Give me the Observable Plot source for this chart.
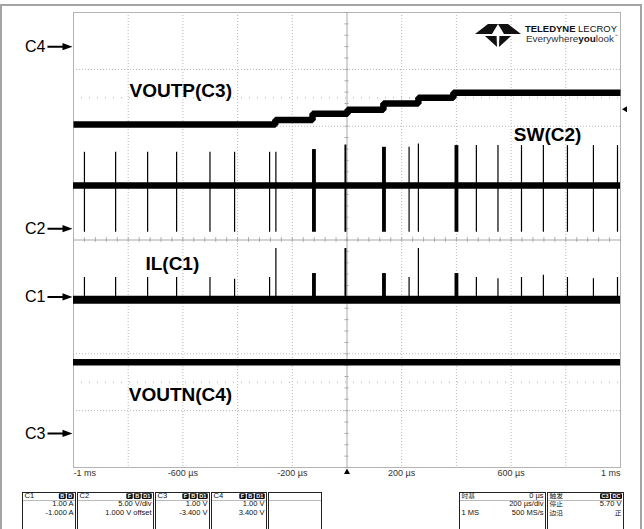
<!DOCTYPE html>
<html><head><meta charset="utf-8">
<script src="https://cdn.jsdelivr.net/npm/d3@7"></script>
<script src="https://cdn.jsdelivr.net/npm/@observablehq/plot@0.6"></script>
<style>
html,body{margin:0;padding:0;background:#fff;}
#wrap{position:relative;width:644px;height:529px;overflow:hidden;font-family:"Liberation Sans",Arial,sans-serif;}
#frame{position:absolute;left:0;top:4px;width:638px;height:560px;border:2px solid #a4a4a4;}
#chart{position:absolute;left:0;top:0;}
#over{position:absolute;left:0;top:0;pointer-events:none;}
</style>
</head><body>
<div id="wrap">
  <div id="frame"></div>
  <div id="chart"></div>
  <svg id="over" width="644" height="529" font-family="Liberation Sans, Arial, sans-serif">
    <g fill="#111">
      <polygon points="475,34 488,24 498,24 492,34"/>
      <polygon points="521,34 508,24 498,24 504,34"/>
      <polygon points="485,36 496.6,36 497,47"/>
      <polygon points="511,36 499.4,36 499,47"/>
    </g>
    <text x="525" y="31.6" font-size="9.6" textLength="92" lengthAdjust="spacingAndGlyphs" fill="#111"><tspan font-weight="bold">TELEDYNE</tspan> LECROY</text>
    <text x="526" y="41.6" font-size="9" textLength="88" lengthAdjust="spacingAndGlyphs" fill="#333">Everywhere<tspan font-weight="bold" fill="#111">you</tspan>look</text>
    <text x="614.5" y="36.5" font-size="3.5" fill="#333">™</text>
    <g id="boxes"></g>
  </svg>
</div>
<script>
// ---- axis / channel settings ----
const timeTicks = [-1000, -600, -200, 200, 600, 1000];           // µs
const timeTickLabels = ["-1 ms", "-600 µs", "-200 µs", "200 µs", "600 µs", "1 ms"];
const chNames = ["C1", "C2", "C3", "C4"];
const chScale = [1, 5, 1, 1];          // units per division
const chOffset = [-1, 1, -3.4, 3.4];   // offset
const triggerLevel = 5.70;             // V on C3
const triggerTime = 0;

// ---- traces ----
// VOUTP (C3): staircase
const voutpStepTimes = [-1000, -262, -126, 2, 133, 261, 389];
const voutpLevels = [5.43, 5.51, 5.62, 5.69, 5.80, 5.90, 5.99];
// switching events (µs)
const pulseTimes  = [-960, -846, -729, -623, -501, -411, -283, -260, -119, -4, 137, 227, 261, 402, 473, 552, 638, 718, 806, 901, 989];
const pulseWidths = [0, 0, 0, 0, 0, 0, 0, 0, 14, 7, 14, 0, 0, 14, 0, 0, 0, 0, 0, 0, 0];
// SW (C2) spike extremes, V
const swHigh = [6.71, 6.71, 6.71, 6.71, 6.71, 6.71, 6.71, 6.71, 6.95, 7.35, 7.15, 7.15, 7.45, 7.3, 7.3, 7.3, 7.3, 7.3, 7.3, 7.3, 7.3];
const swLow  = [-0.32, -0.32, -0.32, -0.32, -0.32, -0.32, -0.32, -0.32, -0.32, -0.32, -0.32, -0.32, -0.32, -0.32, -0.32, -0.32, -0.32, -0.32, -0.32, -0.32, -0.32];
const swBaseline = 3.79;
// IL (C1) peaks, A
const ilPeak = [0.34, 0.34, 0.34, 0.34, 0.34, 0.31, 0.34, 0.85, 0.41, 0.85, 0.41, 0.34, 0.85, 0.41, 0.34, 0.32, 0.34, 0.38, 0.34, 0.32, 0.34];
const ilBaseline = -0.05;
// VOUTN (C4)
const voutnLevel = -5.55;

// ---- info boxes text ----
const boxNames = ["C1", "C2", "C3", "C4"];
const boxBadges = [["B", "D"], ["F", "B", "D1"], ["F", "B", "D1"], ["F", "B", "D1"]];
const boxRow2 = ["1.00 A", "5.00 V/div", "1.00 V", "1.00 V"];
const boxRow3 = ["-1.000 A", "1.000 V offset", "-3.400 V", "3.400 V"];
const tbLeft = ["时基", "", "1 MS"];
const tbRight = ["0 µs", "200 µs/div", "500 MS/s"];
const trLeft = ["触发", "停止", "边沿"];
const trRight = ["", "5.70 V", "正"];
const trBadges = ["C3", "DC"];

// ---- helpers ----
const div = (ch, v) => (v + chOffset[ch]) / chScale[ch];
const C1 = 0, C2 = 1, C3 = 2, C4 = 3;

const voutp = voutpStepTimes.map((t, i) => ({t, y: div(C3, voutpLevels[i])}));
voutp.push({t: 1000, y: div(C3, voutpLevels[voutpLevels.length - 1])});

const pulses = pulseTimes.map((t, i) => ({
  t, w: pulseWidths[i],
  swHi: div(C2, swHigh[i]), swLo: div(C2, swLow[i]),
  ilHi: div(C1, ilPeak[i]), ilLo: div(C1, ilBaseline)
}));
const thin = pulses.filter(d => d.w === 0);
const thick = pulses.filter(d => d.w > 0);

const grounds = chNames.map((n, i) => ({name: n, y: div(i, 0)}));

const arrowSym = {draw(ctx) {
  ctx.moveTo(-25, -1); ctx.lineTo(-10, -1); ctx.lineTo(-10, -3.6); ctx.lineTo(0, 0);
  ctx.lineTo(-10, 3.6); ctx.lineTo(-10, 1); ctx.lineTo(-25, 1); ctx.closePath();
}};
const leftTri = {draw(ctx) { ctx.moveTo(-2.5, 0); ctx.lineTo(2.5, -3); ctx.lineTo(2.5, 3); ctx.closePath(); }};
const upTri = {draw(ctx) { ctx.moveTo(0, -3); ctx.lineTo(3, 2.5); ctx.lineTo(-3, 2.5); ctx.closePath(); }};

const gridX = d3.range(-800, 1000, 200).filter(v => v !== 0);
const gridY = [-3, -2, -1, 1, 2, 3];
const minorX = d3.range(-1000, 1001, 40);
const minorY = d3.range(-4, 4.01, 0.2);

const tickData = timeTicks.map((t, i) => ({t, label: timeTickLabels[i]}));

const plot = Plot.plot({
  width: 644, height: 529,
  marginLeft: 73, marginRight: 24, marginTop: 12, marginBottom: 62,
  x: {domain: [-1000, 1000], axis: null},
  y: {domain: [-4, 4], axis: null},
  style: {background: "transparent", fontFamily: "Liberation Sans, Arial, sans-serif", overflow: "visible"},
  marks: [
    Plot.ruleX(gridX, {stroke: "#b8b8b8", strokeDasharray: "1,2"}),
    Plot.ruleY(gridY, {stroke: "#b8b8b8", strokeDasharray: "1,2"}),
    Plot.ruleY([-2.5, 2.5], {stroke: "#aaa", strokeDasharray: "1,7"}),
    Plot.frame({stroke: "#b4b4b4"}),
    Plot.ruleX([0], {stroke: "#a8a8a8"}),
    Plot.ruleY([0], {stroke: "#a8a8a8"}),
    Plot.ruleX(minorX, {y1: -0.04, y2: 0.04, stroke: "#a8a8a8"}),
    Plot.ruleY(minorY, {x1: -7.3, x2: 7.3, stroke: "#a8a8a8"}),
    // VOUTP
    Plot.line(voutp, {x: "t", y: "y", curve: "step-after", stroke: "#000", strokeWidth: 6.5, strokeLinecap: "butt", strokeLinejoin: "miter"}),
    // SW
    Plot.ruleY([div(C2, swBaseline)], {stroke: "#000", strokeWidth: 6.6}),
    Plot.ruleX(thin, {x: "t", y1: "swLo", y2: "swHi", stroke: "#000", strokeWidth: 1.2}),
    Plot.rect(thick, {x1: d => d.t - d.w / 2, x2: d => d.t + d.w / 2, y1: "swLo", y2: "swHi", fill: "#000"}),
    // IL
    Plot.ruleY([div(C1, ilBaseline)], {stroke: "#000", strokeWidth: 8}),
    Plot.ruleX(thin, {x: "t", y1: "ilLo", y2: "ilHi", stroke: "#000", strokeWidth: 1.2}),
    Plot.rect(thick, {x1: d => d.t - d.w / 2, x2: d => d.t + d.w / 2, y1: "ilLo", y2: "ilHi", fill: "#000"}),
    // VOUTN
    Plot.ruleY([div(C4, voutnLevel)], {stroke: "#000", strokeWidth: 6.6}),
    // trace labels
    Plot.text(["VOUTP(C3)"], {x: -795, y: 2.63, textAnchor: "start", fontSize: 19, fontWeight: "bold", fill: "#000"}),
    Plot.text(["SW(C2)"], {x: 610, y: 1.84, textAnchor: "start", fontSize: 19, fontWeight: "bold", fill: "#000"}),
    Plot.text(["IL(C1)"], {x: -737, y: -0.42, textAnchor: "start", fontSize: 19, fontWeight: "bold", fill: "#000"}),
    Plot.text(["VOUTN(C4)"], {x: -798, y: -2.73, textAnchor: "start", fontSize: 19, fontWeight: "bold", fill: "#000"}),
    // ground markers
    Plot.text(grounds, {y: "y", text: "name", frameAnchor: "left", dx: -28, textAnchor: "end", fontSize: 16, fill: "#000"}),
    Plot.dot(grounds, {y: "y", frameAnchor: "left", dx: -1, symbol: arrowSym, fill: "#000", stroke: null}),
    // trigger markers
    Plot.dot([div(C3, triggerLevel)], {y: d => d, frameAnchor: "right", dx: 4, symbol: leftTri, fill: "#000", stroke: null}),
    Plot.dot([triggerTime], {x: d => d, frameAnchor: "bottom", dy: 4, symbol: upTri, fill: "#000", stroke: null}),
    // time tick labels
    Plot.text(tickData.slice(0, 1), {x: "t", text: "label", frameAnchor: "bottom", dy: 8, textAnchor: "start", fontSize: 9, fill: "#333"}),
    Plot.text(tickData.slice(1, -1), {x: "t", text: "label", frameAnchor: "bottom", dy: 8, fontSize: 9, fill: "#333"}),
    Plot.text(tickData.slice(-1), {x: "t", text: "label", frameAnchor: "bottom", dy: 8, textAnchor: "end", fontSize: 9, fill: "#333"})
  ]
});
document.getElementById("chart").appendChild(plot);

// ---- info boxes (SVG) ----
const g = d3.select("#boxes");
const BY = 492, B1 = 498.3, B2 = 506.2, B3 = 514.5;
function mkBox(x, w) {
  g.append("rect").attr("x", x + 0.5).attr("y", BY + 0.5).attr("width", w).attr("height", 60)
    .attr("fill", "#fff").attr("stroke", "#222");
  g.append("line").attr("x1", x + 1.5).attr("x2", x + w - 0.5).attr("y1", 500.5).attr("y2", 500.5)
    .attr("stroke", "#777").attr("stroke-dasharray", "1,1");
}
function txt(x, y, s, anchor, cjk) {
  const t = g.append("text").attr("x", x).attr("y", y).attr("text-anchor", anchor)
    .attr("font-size", cjk ? 5.8 : 7.5).attr("fill", "#111").text(s);
  if (cjk) t.attr("font-family", "Noto Sans CJK SC, sans-serif").attr("textLength", 6.8 * s.length).attr("lengthAdjust", "spacingAndGlyphs");
  return t;
}
function badgeRow(right, labels) {
  let r = right;
  labels.slice().reverse().forEach(l => {
    const t = g.append("text").attr("y", 497.6).attr("font-size", 5.5).attr("font-weight", "bold")
      .attr("fill", "#fff").attr("text-anchor", "middle").text(l);
    const w = Math.max(6.5, t.node().getComputedTextLength() + 3);
    g.insert("rect", () => t.node()).attr("x", r - w).attr("y", 493.3).attr("width", w).attr("height", 5.6)
      .attr("rx", 1.2).attr("fill", "#111");
    t.attr("x", r - w / 2);
    r -= w + 1;
  });
}
const boxX = [22, 77, 155, 211, 268];
const boxW = [53, 76, 54, 55, 53];
boxNames.forEach((n, i) => {
  const x = boxX[i], w = boxW[i];
  mkBox(x, w);
  txt(x + 2.5, B1, n, "start");
  badgeRow(x + w - 1.2, boxBadges[i]);
  txt(x + w - 1.5, B2, boxRow2[i], "end");
  txt(x + w - 1.5, B3, boxRow3[i], "end");
});
mkBox(boxX[4], boxW[4]);
// timebase
mkBox(459, 86);
[B1, B2, B3].forEach((y, i) => {
  if (tbLeft[i]) txt(461.5, y, tbLeft[i], "start", i === 0);
  txt(543.5, y, tbRight[i], "end");
});
// trigger
mkBox(547, 76);
[B1, B2, B3].forEach((y, i) => {
  txt(549.5, y, trLeft[i], "start", true);
  if (trRight[i]) txt(621.5, y, trRight[i], "end", /[^\x00-\x7f]/.test(trRight[i]) && !/µ/.test(trRight[i]));
});
badgeRow(622, trBadges);
</script>
</body></html>
